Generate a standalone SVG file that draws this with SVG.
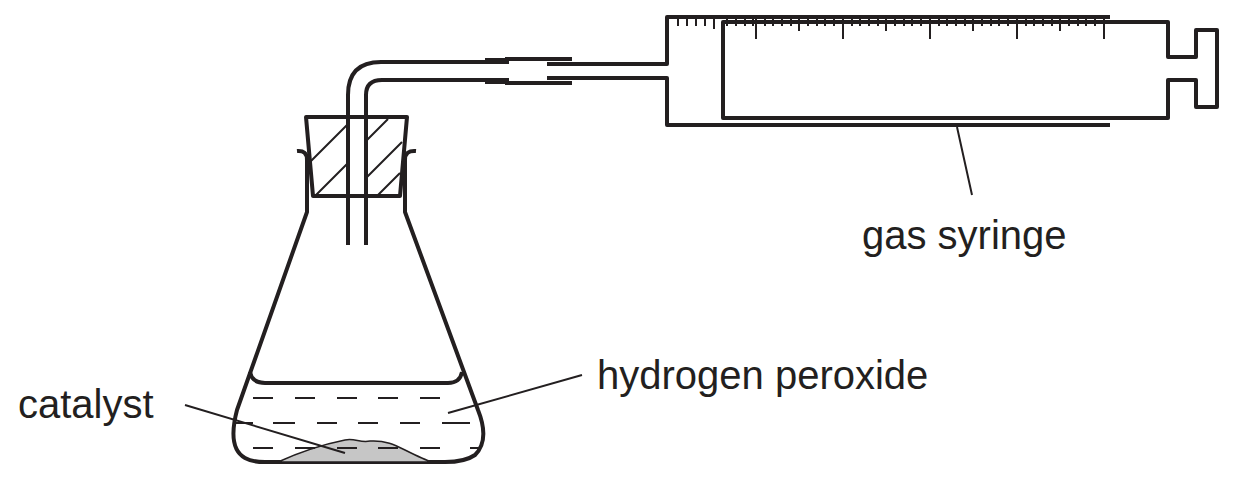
<svg xmlns="http://www.w3.org/2000/svg" width="1238" height="481" viewBox="0 0 1238 481">
<style>
.l{fill:none;stroke:#231f20;stroke-width:4;stroke-linejoin:round}
.t{stroke:#231f20;stroke-width:2}
.h{stroke:#231f20;stroke-width:2}
text{font-family:"Liberation Sans",Arial,sans-serif;font-size:40px;fill:#231f20}
</style>
<rect width="1238" height="481" fill="#fff"/>
<g id="flask">
<path class="l" d="M297,151 Q307,150 307,160 L307,212 L237,410 Q227,448 245,458 Q252,462 265,462 L445,462 Q465,462 475,455 Q490,440 478,410 L405,212 L405,160 Q405,150 416,151"/>
<path class="l" d="M250,372 Q252,383 265,383 L448,383 Q460,383 462,372"/>
<path d="M278,462 C300,452 320,445 345,440 C355,438 360,443 370,441 C385,440 395,445 405,450 C415,455 425,460 432,462 Z" fill="#c6c6c6" stroke="#231f20" stroke-width="1.5"/>
<g class="t">
<path d="M253,398H273M295,398H315M337,398H357M378,398H398M420,398H440"/>
<path d="M233,423H253M273,423H295M317,423H337M358,423H378M400,423H420M442,423H470"/>
<path d="M253,448H273M295,448H315M337,448H357M378,448H398M420,448H440M470,448H480"/>
</g>
</g>
<g id="stopper">
<path class="l" d="M306,117 L407,117 L400,196 L313,196 Z" fill="#fff"/>
<path class="h" d="M310,162 L348,124 M315,196 L348,163 M366,141 L388,119 M366,178 L402,142 M377,196 L400,173"/>
</g>
<g id="tube">
<path class="l" d="M348,245 L348,95 Q348,62 381,62 L485,62"/>
<path class="l" d="M366,245 L366,95 Q366,80 382,80 L485,80"/>
<rect x="485" y="58" width="24" height="6" fill="#231f20"/>
<rect x="485" y="78" width="24" height="6" fill="#231f20"/>
<path class="l" d="M505,59 L572,59 M505,83 L572,83"/>
<path class="l" d="M547,64 L667,64 L667,17 L1110,17 M547,78 L667,78 L667,125 L1110,125"/>
</g>
<g id="syringe">
<path class="l" d="M723,22 L1168,22 L1168,57 L1196,57 L1196,30 L1217,30 L1217,107 L1196,107 L1196,80 L1168,80 L1168,118 L723,118 Z"/>
<path class="t" d="M678,17v9M687,17v9M696,17v9M705,17v9M714,17v12M727,17v9M736,17v9M745,17v9M753,17v9M756,17v22M765,17v9M773,17v9M782,17v9M791,17v9M799,17v14M808,17v9M817,17v9M825,17v9M834,17v9M843,17v22M852,17v9M860,17v9M869,17v9M878,17v9M886,17v14M895,17v9M904,17v9M912,17v9M921,17v9M930,17v22M939,17v9M947,17v9M956,17v9M965,17v9M973,17v14M982,17v9M991,17v9M999,17v9M1008,17v9M1017,17v22M1026,17v9M1034,17v9M1043,17v9M1052,17v9M1060,17v14M1069,17v9M1078,17v9M1086,17v9M1095,17v9M1104,17v22"/>
</g>
<g id="labels">
<path class="t" d="M957,127 L972,195 M582,375 L448,413 M185,405 L345,453"/>
<text x="862" y="249">gas syringe</text>
<text x="597" y="389">hydrogen peroxide</text>
<text x="18" y="418">catalyst</text>
</g>
</svg>
